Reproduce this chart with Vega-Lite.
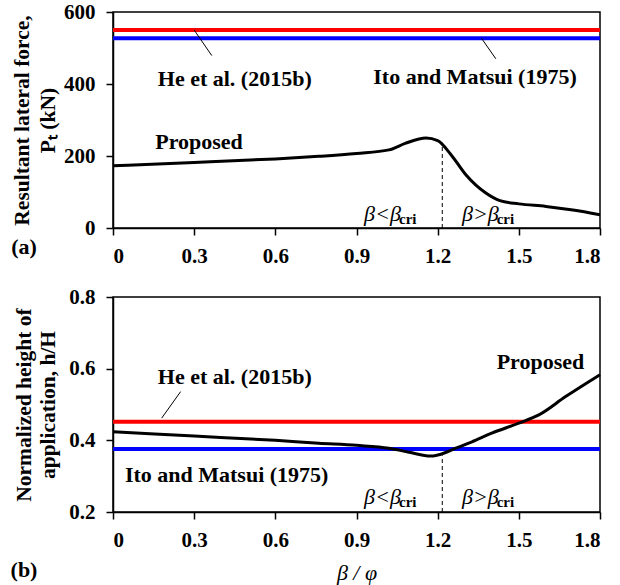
{
  "$schema": "https://vega.github.io/schema/vega-lite/v6.json",
  "padding": {"left": 9, "top": 0, "right": 5, "bottom": 2},
  "spacing": 18,
  "config": {
    "font": "Liberation Serif",
    "view": {"stroke": "black", "strokeWidth": 1.5},
    "axis": {
      "labelFont": "Liberation Serif", "labelFontSize": 21, "labelFontWeight": "bold", "labelColor": "black",
      "titleFont": "Liberation Serif", "titleFontSize": 21.5, "titleFontWeight": "bold", "titleColor": "black",
      "domainColor": "black", "domainWidth": 1.5, "tickColor": "black", "tickWidth": 1.5, "tickSize": 7, "grid": false
    },
    "axisX": {"labelPadding": 10},
    "axisY": {"labelPadding": 11},
    "text": {"font": "Liberation Serif", "fontSize": 22, "fontWeight": "bold", "color": "black"}
  },
  "datasets": {
    "curveA": [
      {"beta": 0, "v": 173}, {"beta": 0.3, "v": 182}, {"beta": 0.6, "v": 192}, {"beta": 0.76, "v": 199},
      {"beta": 0.9, "v": 207}, {"beta": 1.02, "v": 217}, {"beta": 1.08, "v": 235}, {"beta": 1.157, "v": 250},
      {"beta": 1.2, "v": 243}, {"beta": 1.25, "v": 203}, {"beta": 1.305, "v": 147}, {"beta": 1.378, "v": 97},
      {"beta": 1.43, "v": 76}, {"beta": 1.5, "v": 67}, {"beta": 1.6, "v": 60}, {"beta": 1.7, "v": 50}, {"beta": 1.8, "v": 37}
    ],
    "curveB": [
      {"beta": 0, "v": 0.424}, {"beta": 0.3, "v": 0.412}, {"beta": 0.6, "v": 0.400}, {"beta": 0.76, "v": 0.392},
      {"beta": 0.9, "v": 0.386}, {"beta": 1.02, "v": 0.378}, {"beta": 1.094, "v": 0.367}, {"beta": 1.174, "v": 0.356},
      {"beta": 1.2, "v": 0.359}, {"beta": 1.267, "v": 0.378}, {"beta": 1.327, "v": 0.396}, {"beta": 1.4, "v": 0.42},
      {"beta": 1.5, "v": 0.448}, {"beta": 1.574, "v": 0.471}, {"beta": 1.673, "v": 0.522}, {"beta": 1.8, "v": 0.583}
    ],
    "refA": [
      {"name": "He et al. (2015b)", "x0": 0, "x1": 1.8, "v": 550},
      {"name": "Ito and Matsui (1975)", "x0": 0, "x1": 1.8, "v": 527}
    ],
    "refB": [
      {"name": "He et al. (2015b)", "x0": 0, "x1": 1.8, "v": 0.452},
      {"name": "Ito and Matsui (1975)", "x0": 0, "x1": 1.8, "v": 0.376}
    ],
    "leadA": [
      {"x": 0.30, "y": 550, "x2": 0.365, "y2": 479},
      {"x": 1.362, "y": 527, "x2": 1.415, "y2": 470}
    ],
    "leadB": [
      {"x": 0.18, "y": 0.462, "x2": 0.25, "y2": 0.536}
    ],
    "dashA": [{"x": 1.217, "y": 0, "y2": 237}],
    "dashB": [{"x": 1.217, "y": 0.2, "y2": 0.358}],
    "labA": [
      {"x": 0.45, "y": 415, "t": "He et al. (2015b)"},
      {"x": 1.338, "y": 420, "t": "Ito and Matsui (1975)"},
      {"x": 0.318, "y": 240, "t": "Proposed"},
      {"x": -0.329, "y": -52, "t": "(a)"}
    ],
    "labB": [
      {"x": 0.45, "y": 0.578, "t": "He et al. (2015b)"},
      {"x": 0.42, "y": 0.303, "t": "Ito and Matsui (1975)"},
      {"x": 1.58, "y": 0.62, "t": "Proposed"},
      {"x": -0.329, "y": 0.037, "t": "(b)"}
    ],
    "betaA": [
      {"x": 0.928, "y": 40, "t": "β<β", "s": "cri", "xs": 1.057, "ys": 24},
      {"x": 1.29, "y": 40, "t": "β>β", "s": "cri", "xs": 1.418, "ys": 24}
    ],
    "betaB": [
      {"x": 0.928, "y": 0.242, "t": "β<β", "s": "cri", "xs": 1.057, "ys": 0.227},
      {"x": 1.29, "y": 0.242, "t": "β>β", "s": "cri", "xs": 1.418, "ys": 0.227}
    ]
  },
  "vconcat": [
    {
      "width": 487, "height": 216,
      "layer": [
        {
          "data": {"name": "refA"},
          "mark": {"type": "rule", "strokeWidth": 4},
          "encoding": {
            "x": {"field": "x0", "type": "quantitative", "scale": {"domain": [0, 1.8]},
                  "axis": {"values": [0, 0.3, 0.6, 0.9, 1.2, 1.5, 1.8], "format": ".1~f", "title": null}},
            "x2": {"field": "x1"},
            "y": {"field": "v", "type": "quantitative", "scale": {"domain": [0, 600]},
                  "axis": {"values": [0, 100, 200, 300, 400, 500, 600], "title": ["Resultant lateral force,", "Pₜ (kN)"], "titlePadding": 4, "titleLineHeight": 26}},
            "color": {"field": "name", "type": "nominal", "scale": {"domain": ["He et al. (2015b)", "Ito and Matsui (1975)"], "range": ["#ff0000", "#0000ff"]}, "legend": null}
          }
        },
        {
          "data": {"name": "curveA"},
          "mark": {"type": "line", "color": "black", "strokeWidth": 3, "interpolate": "monotone"},
          "encoding": {"x": {"field": "beta", "type": "quantitative"}, "y": {"field": "v", "type": "quantitative"}}
        },
        {
          "data": {"name": "dashA"},
          "mark": {"type": "rule", "color": "black", "strokeWidth": 1, "strokeDash": [4, 3]},
          "encoding": {"x": {"field": "x", "type": "quantitative"}, "y": {"field": "y", "type": "quantitative"}, "y2": {"field": "y2"}}
        },
        {
          "data": {"name": "leadA"},
          "mark": {"type": "rule", "color": "black", "strokeWidth": 1},
          "encoding": {"x": {"field": "x", "type": "quantitative"}, "y": {"field": "y", "type": "quantitative"}, "x2": {"field": "x2"}, "y2": {"field": "y2"}}
        },
        {
          "data": {"name": "labA"},
          "mark": {"type": "text", "align": "center", "baseline": "middle"},
          "encoding": {"x": {"field": "x", "type": "quantitative"}, "y": {"field": "y", "type": "quantitative"}, "text": {"field": "t"}}
        },
        {
          "data": {"name": "betaA"},
          "mark": {"type": "text", "align": "left", "baseline": "middle", "fontStyle": "italic", "fontWeight": "normal", "fontSize": 22},
          "encoding": {"x": {"field": "x", "type": "quantitative"}, "y": {"field": "y", "type": "quantitative"}, "text": {"field": "t"}}
        },
        {
          "data": {"name": "betaA"},
          "mark": {"type": "text", "align": "left", "baseline": "middle", "fontSize": 15},
          "encoding": {"x": {"field": "xs", "type": "quantitative"}, "y": {"field": "ys", "type": "quantitative"}, "text": {"field": "s"}}
        }
      ]
    },
    {
      "width": 487, "height": 215,
      "layer": [
        {
          "data": {"name": "refB"},
          "mark": {"type": "rule", "strokeWidth": 4},
          "encoding": {
            "x": {"field": "x0", "type": "quantitative", "scale": {"domain": [0, 1.8]},
                  "axis": {"values": [0, 0.3, 0.6, 0.9, 1.2, 1.5, 1.8], "format": ".1~f", "title": "β / φ", "titleFontStyle": "italic", "titleFontWeight": "normal", "titleFontSize": 22, "titlePadding": 12}},
            "x2": {"field": "x1"},
            "y": {"field": "v", "type": "quantitative", "scale": {"domain": [0.2, 0.8]},
                  "axis": {"values": [0.2, 0.4, 0.6, 0.8], "format": ".1f", "title": ["Normalized height of", "application, h/H"], "titlePadding": 9, "titleLineHeight": 24}},
            "color": {"field": "name", "type": "nominal", "scale": {"domain": ["He et al. (2015b)", "Ito and Matsui (1975)"], "range": ["#ff0000", "#0000ff"]}, "legend": null}
          }
        },
        {
          "data": {"name": "curveB"},
          "mark": {"type": "line", "color": "black", "strokeWidth": 3, "interpolate": "monotone"},
          "encoding": {"x": {"field": "beta", "type": "quantitative"}, "y": {"field": "v", "type": "quantitative"}}
        },
        {
          "data": {"name": "dashB"},
          "mark": {"type": "rule", "color": "black", "strokeWidth": 1, "strokeDash": [4, 3]},
          "encoding": {"x": {"field": "x", "type": "quantitative"}, "y": {"field": "y", "type": "quantitative"}, "y2": {"field": "y2"}}
        },
        {
          "data": {"name": "leadB"},
          "mark": {"type": "rule", "color": "black", "strokeWidth": 1},
          "encoding": {"x": {"field": "x", "type": "quantitative"}, "y": {"field": "y", "type": "quantitative"}, "x2": {"field": "x2"}, "y2": {"field": "y2"}}
        },
        {
          "data": {"name": "labB"},
          "mark": {"type": "text", "align": "center", "baseline": "middle"},
          "encoding": {"x": {"field": "x", "type": "quantitative"}, "y": {"field": "y", "type": "quantitative"}, "text": {"field": "t"}}
        },
        {
          "data": {"name": "betaB"},
          "mark": {"type": "text", "align": "left", "baseline": "middle", "fontStyle": "italic", "fontWeight": "normal", "fontSize": 22},
          "encoding": {"x": {"field": "x", "type": "quantitative"}, "y": {"field": "y", "type": "quantitative"}, "text": {"field": "t"}}
        },
        {
          "data": {"name": "betaB"},
          "mark": {"type": "text", "align": "left", "baseline": "middle", "fontSize": 15},
          "encoding": {"x": {"field": "xs", "type": "quantitative"}, "y": {"field": "ys", "type": "quantitative"}, "text": {"field": "s"}}
        }
      ]
    }
  ]
}
